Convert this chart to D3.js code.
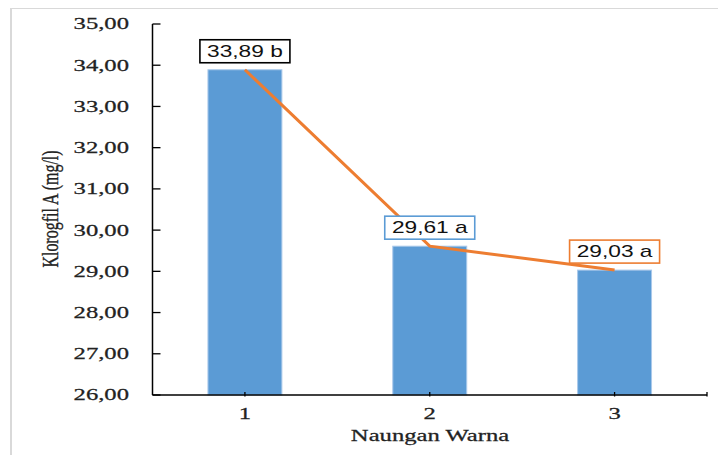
<!DOCTYPE html>
<html>
<head>
<meta charset="utf-8">
<script src="https://cdn.jsdelivr.net/npm/d3@7"></script>
<style>
  html, body { margin: 0; padding: 0; background: #fff; }
  svg { display: block; }
</style>
</head>
<body>
<svg id="chart" width="718" height="455"></svg>
<script>
// Chlorophyll A per shade colour treatment
const categories = ["1", "2", "3"];
const values = [33.89, 29.61, 29.03];
const letters = ["b", "a", "a"];
const yTicks = [26, 27, 28, 29, 30, 31, 32, 33, 34, 35];
const xTitle = "Naungan Warna";
const yTitle = "Klorogfil A (mg/l)";

const labelBorders = ["#000000", "#5b9bd5", "#ed7d31"];
const fmt = v => v.toFixed(2).replace(".", ",");

const svg = d3.select("#chart");
const W = 718, H = 455;
const margin = { left: 152.5, right: 11, top: 24, bottom: 60 };
const sx = 1.54; // horizontal text stretch
const serif = "'Liberation Serif', 'Times New Roman', serif";

// outer frame (top and left edges visible)
svg.append("line").attr("x1", 10).attr("x2", W).attr("y1", 8.5).attr("y2", 8.5)
  .attr("stroke", "#d9d9d9").attr("stroke-width", 1.2);
svg.append("line").attr("x1", 11).attr("x2", 11).attr("y1", 8).attr("y2", H)
  .attr("stroke", "#d9d9d9").attr("stroke-width", 2);

const x = d3.scaleBand()
  .domain(categories)
  .range([margin.left, W - margin.right])
  .paddingInner(0.6)
  .paddingOuter(0.3);

const y = d3.scaleLinear()
  .domain([26, 35])
  .range([H - margin.bottom, margin.top]);

const y0 = y(26);

// bars
svg.append("g").selectAll("rect")
  .data(values)
  .join("rect")
  .attr("x", (d, i) => x(categories[i]))
  .attr("y", d => y(d))
  .attr("width", x.bandwidth())
  .attr("height", d => y0 - y(d))
  .attr("fill", "#5b9bd5")
  .attr("stroke", "#a9c8ea")
  .attr("stroke-width", 1);

// y axis
const yAxis = svg.append("g").attr("transform", `translate(${margin.left},0)`);
yAxis.append("line").attr("x1", 0).attr("x2", 0).attr("y1", y(35)).attr("y2", y0)
  .attr("stroke", "#000").attr("stroke-width", 1.5);
yAxis.selectAll("line.tick").data(yTicks).join("line").attr("class", "tick")
  .attr("x1", 0).attr("x2", 8).attr("y1", d => y(d)).attr("y2", d => y(d))
  .attr("stroke", "#000").attr("stroke-width", 1.3);
svg.append("g").selectAll("text").data(yTicks).join("text")
  .attr("transform", d => `translate(129,${y(d)}) scale(${sx},1)`)
  .attr("text-anchor", "end")
  .attr("dy", "0.34em")
  .attr("font-family", serif)
  .attr("font-size", 16)
  .attr("fill", "#222")
  .attr("stroke", "#222").attr("stroke-width", 0.25)
  .text(d => fmt(d));

// x axis
svg.append("line").attr("x1", margin.left).attr("x2", W - margin.right)
  .attr("y1", y0).attr("y2", y0).attr("stroke", "#000").attr("stroke-width", 1.5);
const xTickPos = categories.map(c => x(c) + x.bandwidth() / 2).concat([W - margin.right]);
svg.append("g").selectAll("line").data(xTickPos).join("line")
  .attr("x1", d => d).attr("x2", d => d).attr("y1", y0 - 3).attr("y2", y0 + 1.5)
  .attr("stroke", "#000").attr("stroke-width", 1.3);
svg.append("g").selectAll("text").data(categories).join("text")
  .attr("transform", c => `translate(${x(c) + x.bandwidth() / 2},419) scale(${sx},1)`)
  .attr("text-anchor", "middle")
  .attr("font-family", serif)
  .attr("font-size", 16)
  .attr("fill", "#222")
  .attr("stroke", "#222").attr("stroke-width", 0.25)
  .text(c => c);

// axis titles
svg.append("text")
  .attr("transform", `translate(430,441) scale(${sx},1)`)
  .attr("text-anchor", "middle")
  .attr("font-family", serif)
  .attr("font-size", 16)
  .attr("fill", "#222")
  .attr("stroke", "#222").attr("stroke-width", 0.25)
  .text(xTitle);
svg.append("text")
  .attr("transform", `translate(58,209) scale(1.5,1) rotate(-90)`)
  .attr("text-anchor", "middle")
  .attr("font-family", serif)
  .attr("font-size", 16)
  .attr("fill", "#222")
  .attr("stroke", "#222").attr("stroke-width", 0.25)
  .text(yTitle);

// trend line through bar tops
const line = d3.line()
  .x((d, i) => x(categories[i]) + x.bandwidth() / 2)
  .y(d => y(d));
svg.append("path")
  .datum(values)
  .attr("d", line)
  .attr("fill", "none")
  .attr("stroke", "#ed7d31")
  .attr("stroke-width", 3);

// value labels in boxes
const boxW = 90, boxH = 23;
const labels = svg.append("g").selectAll("g").data(values).join("g")
  .attr("transform", (d, i) => `translate(${x(categories[i]) + x.bandwidth() / 2},${y(d) - 18.5})`);
labels.append("rect")
  .attr("x", -boxW / 2).attr("y", -boxH / 2)
  .attr("width", boxW).attr("height", boxH)
  .attr("fill", "#fff")
  .attr("stroke", (d, i) => labelBorders[i])
  .attr("stroke-width", 1.6);
labels.append("text")
  .attr("transform", `scale(1.42,1)`)
  .attr("text-anchor", "middle")
  .attr("dy", "0.36em")
  .attr("font-family", "'Liberation Sans', Arial, sans-serif")
  .attr("font-size", 16)
  .attr("fill", "#111")
  .text((d, i) => `${fmt(d)} ${letters[i]}`);
</script>
</body>
</html>
